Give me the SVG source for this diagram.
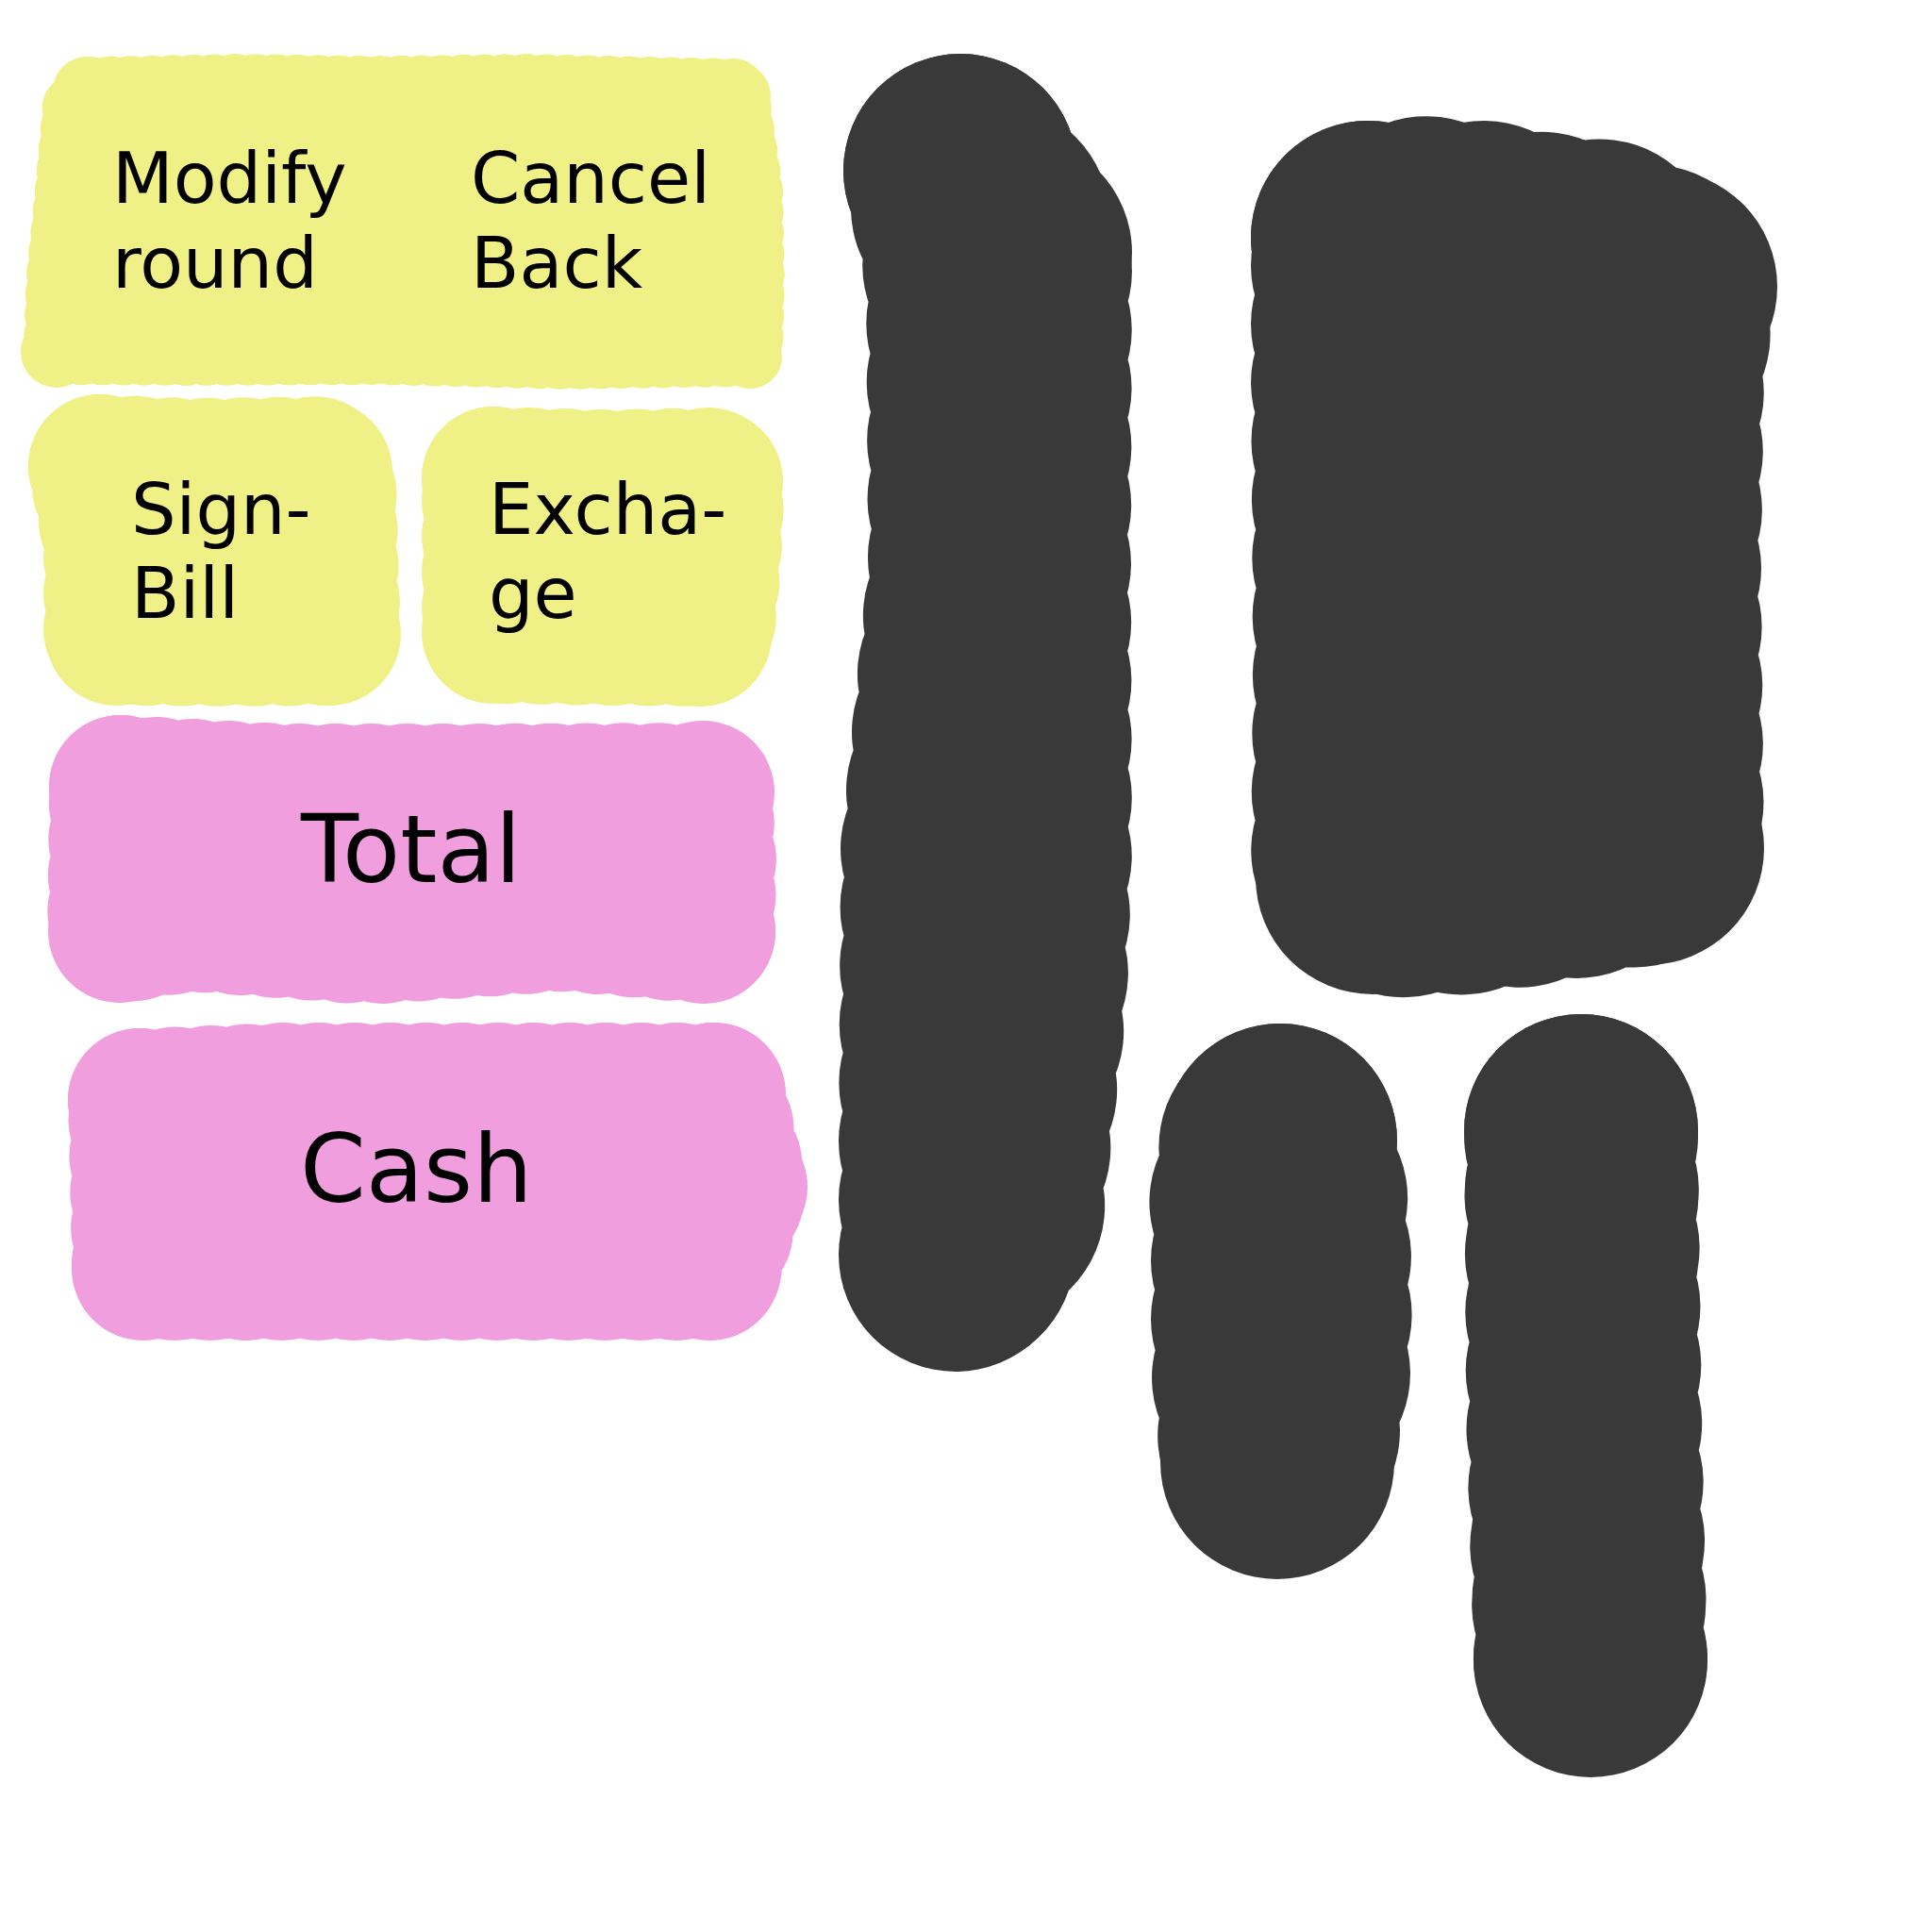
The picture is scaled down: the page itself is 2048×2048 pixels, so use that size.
<svg xmlns="http://www.w3.org/2000/svg" width="2048" height="2048" viewBox="0 0 2048 2048">
<style>
.y{fill:#EFF085;stroke:#EFF085;stroke-linecap:round;stroke-linejoin:round}
.p{fill:#F09EDE;stroke:#F09EDE;stroke-linecap:round;stroke-linejoin:round}
.d{fill:#393939;stroke:#393939;stroke-linecap:round;stroke-linejoin:round;stroke-width:248;stroke-dasharray:0.01 62}
.dc{fill:#393939}
.yc{fill:#EFF085}
.pc{fill:#F09EDE}
.s{stroke-width:70;stroke-dasharray:0.01 22}
.m{stroke-width:152;stroke-dasharray:0.01 38}
.t{font-family:"DejaVu Sans","Liberation Sans",sans-serif;fill:#000}
.t1{font-size:75px}
.t2{font-size:100px}
</style>
<rect width="2048" height="2048" fill="#fff"/>
<g id="node-modify-cancel">
<path class="y s" d="M95,95 L250,92 L400,94 L560,92 L780,97 L795,200 L797,300 L795,375 L600,378 L400,373 L200,374 L60,373 L62,300 L72,200 L80,110 Z"/>
<circle class="yc" cx="92" cy="96" r="36"/>
<circle class="yc" cx="781" cy="102" r="36"/>
<circle class="yc" cx="60" cy="373" r="38"/>
<circle class="yc" cx="795" cy="378" r="34"/>
<text class="t t1" x="119" y="215">Modify<tspan x="119" y="305">round</tspan></text>
<text class="t t1" x="499" y="215">Cancel<tspan x="499" y="305">Back</tspan></text>
</g>
<g id="node-sign-bill">
<path class="y m" d="M106,494 L200,498 L344,496 L346,580 L349,672 L250,673 L122,672 L122,580 Z"/>
<circle class="yc" cx="106" cy="494" r="76"/>
<circle class="yc" cx="340" cy="500" r="76"/>
<circle class="yc" cx="349" cy="672" r="76"/>
<circle class="yc" cx="124" cy="672" r="76"/>
<text class="t t1" x="139" y="566">Sign-<tspan x="139" y="655">Bill</tspan></text>
</g>
<g id="node-exchange">
<path class="y m" d="M523,507 L640,510 L756,508 L752,600 L745,673 L640,672 L523,670 L523,590 Z"/>
<circle class="yc" cx="523" cy="507" r="76"/>
<circle class="yc" cx="754" cy="510" r="76"/>
<circle class="yc" cx="742" cy="673" r="76"/>
<circle class="yc" cx="523" cy="670" r="76"/>
<text class="t t1" x="518" y="566">Excha-<tspan x="518" y="655">ge</tspan></text>
</g>
<g id="node-total">
<path class="p m" d="M128,834 L300,843 L500,843 L743,842 L747,912 L746,988 L600,975 L390,989 L200,975 L126,988 L127,912 Z"/>
<circle class="pc" cx="128" cy="834" r="76"/>
<circle class="pc" cx="745" cy="840" r="76"/>
<circle class="pc" cx="746" cy="988" r="76"/>
<circle class="pc" cx="127" cy="987" r="76"/>
<text class="t t2" x="319" y="935">Total</text>
</g>
<g id="node-cash">
<path class="p m" d="M148,1166 L300,1160 L500,1160 L757,1160 L780,1258 L752,1345 L500,1345 L300,1345 L152,1345 L150,1250 Z"/>
<circle class="pc" cx="148" cy="1166" r="76"/>
<circle class="pc" cx="757" cy="1160" r="76"/>
<circle class="pc" cx="780" cy="1258" r="76"/>
<circle class="pc" cx="752" cy="1345" r="76"/>
<circle class="pc" cx="152" cy="1345" r="76"/>
<text class="t t2" x="318" y="1274">Cash</text>
</g>
<g id="node-dark-1">
<path class="d" d="M1018,181 L1076,268 L1075,600 L1076,900 L1071,1060 L1055,1200 L1045,1300 L1013,1330 L1013,1200 L1015,900 L1044,600 L1042,300 Z"/>
<circle class="dc" cx="1018" cy="181" r="124"/>
<circle class="dc" cx="1076" cy="268" r="124"/>
<circle class="dc" cx="1013" cy="1330" r="124"/>
</g>
<g id="node-dark-2">
<path class="d" d="M1450,252 L1540,245 L1620,262 L1700,272 L1760,304 L1746,400 L1743,600 L1745,800 L1746,899 L1650,917 L1560,930 L1470,934 L1450,924 L1452,700 L1450,400 Z"/>
<circle class="dc" cx="1450" cy="252" r="124"/>
<circle class="dc" cx="1760" cy="304" r="124"/>
<circle class="dc" cx="1746" cy="899" r="124"/>
<circle class="dc" cx="1455" cy="930" r="124"/>
</g>
<g id="node-dark-3">
<path class="d" d="M1357,1209 L1370,1280 L1373,1360 L1372,1450 L1354,1550 L1344,1450 L1344,1300 L1340,1235 Z"/>
<circle class="dc" cx="1357" cy="1209" r="124"/>
<circle class="dc" cx="1354" cy="1550" r="124"/>
</g>
<g id="node-dark-4">
<path class="d" d="M1676,1199 L1680,1500 L1686,1760 L1678,1500 Z"/>
<circle class="dc" cx="1676" cy="1199" r="124"/>
<circle class="dc" cx="1686" cy="1760" r="124"/>
</g>
<g id="connectors"></g>
</svg>
